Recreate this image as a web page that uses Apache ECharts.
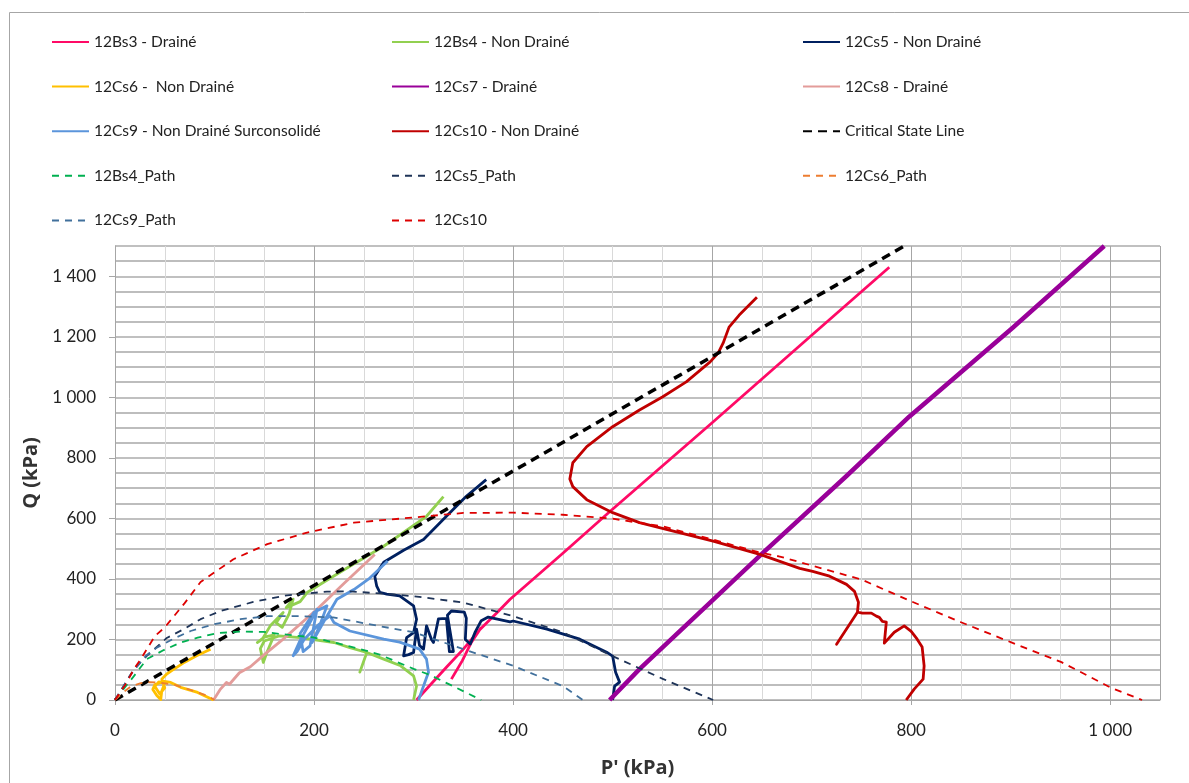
<!DOCTYPE html>
<html><head><meta charset="utf-8">
<script src="https://cdn.jsdelivr.net/npm/echarts@6/dist/echarts.min.js"></script>
<style>html,body{margin:0;padding:0;background:#fff}#c{width:1189px;height:783px}</style>
</head><body><div id="c"></div>
<script>
// ---- Data (P' kPa, Q kPa) ----
const bs3_drained = [[303,0],[316,47],[333,108],[350,168],[367,234],[384,289],[397,333],[450,485],[497,622],[600,916],[700,1205],[778,1430],'-',[338,69],[349,130],[358,190],[368,240]];
const bs4_undrained = [[300,0],[303,46],[300,80],[287,113],[270,135],[253,157],[246,92],[253,157],[236,173],[220,190],[186,206],[165,212],[150,195],[146,170],[149,124],[153,160],[160,215],[150,208],[143,190],[148,201],[156,245],[169,289],[162,255],[168,240],[175,285],[179,333],[172,305],[186,325],[193,355],[210,390],[236,442],[270,508],[313,607],[330,672]];
const cs5_undrained = [[500,0],[502,46],[507,59],[503,92],[500,145],[494,158],[467,201],[434,234],[400,261],[397,258],[375,274],[368,262],[362,225],[357,185],[352,200],[353,270],[351,290],[338,294],[334,280],[340,160],[336,160],[333,270],[325,268],[320,190],[318,200],[313,245],[310,168],[306,180],[303,234],[300,157],[295,150],[290,146],[293,206],[300,223],[303,267],[300,311],[286,344],[273,350],[266,356],[263,376],[261,409],[270,455],[290,495],[310,530],[333,607],[353,673],[373,728]];
const cs6_undrained = [[99,0],[83,25],[66,42],[56,58],[48,62],[40,50],[38,35],[42,15],[46,2],[47,30],[50,55],[44,60],[40,45],[45,20],[50,40],[47,69],[52,86],[57,97],[59,102],[70,125],[82,146],[96,168]];
const cs7_drained = [[497,0],[527,102],[651,486],[735,740],[798,936],[902,1230],[994,1500]];
const cs8_drained = [[99,0],[106,36],[112,58],[115,52],[125,90],[136,110],[150,150],[169,201],[203,300],[230,385],[261,481]];
const cs9_undrained_oc = [[305,0],[310,46],[315,92],[313,135],[306,168],[297,179],[286,191],[270,201],[236,228],[220,256],[216,278],[205,250],[190,200],[183,160],[179,146],[185,190],[195,250],[203,300],[196,179],[189,160],[186,220],[200,290],[213,311],[205,240],[198,190],[210,260],[223,333],[240,365],[255,400],[274,459]];
const cs10_undrained = [[795,0],[803,36],[812,69],[813,113],[811,175],[806,201],[800,227],[793,245],[783,224],[773,188],[775,257],[771,260],[768,273],[765,277],[760,287],[751,287],[746,290],[725,184],[746,290],[747,323],[743,359],[735,382],[718,409],[701,425],[688,435],[668,458],[648,481],[601,525],[567,553],[527,586],[500,619],[474,662],[460,705],[457,730],[460,784],[474,837],[500,903],[527,958],[550,1001],[574,1051],[598,1117],[606,1146],[611,1179],[617,1232],[627,1271],[645,1331]];
const csl = [[0,0],[793,1500]];
const bs4_path = [[0,0],[19,79],[32,135],[49,165],[66,190],[83,206],[103,221],[126,226],[149,225],[169,217],[199,207],[220,190],[250,165],[266,150],[286,122],[300,103],[317,82],[340,45],[368,0]];
const cs5_path = [[0,0],[19,102],[32,146],[52,205],[69,234],[86,267],[106,294],[139,324],[173,346],[213,358],[236,359],[266,352],[300,343],[350,322],[400,277],[450,224],[500,145],[551,69],[601,0]];
const cs6_path = [[0,0],[5,15],[10,30],[16,45],[26,56],[35,59],[45,57],[60,50],[76,33],[93,14],[100,0]];
const cs9_path = [[0,0],[15,80],[31,146],[42,173],[59,203],[76,228],[99,250],[126,267],[153,277],[186,277],[219,273],[266,244],[300,224],[350,168],[400,113],[450,46],[470,0]];
const cs10_path = [[0,0],[12,59],[19,102],[26,135],[32,168],[40,211],[50,240],[70,320],[86,390],[119,465],[153,515],[193,553],[240,586],[286,599],[350,618],[400,619],[450,612],[500,599],[551,573],[601,530],[648,487],[668,474],[750,398],[800,326],[850,257],[900,191],[951,125],[1001,40],[1032,0]];

const names = ['12Bs3 - Drainé','12Bs4 - Non Drainé','12Cs5 - Non Drainé','12Cs6 -  Non Drainé','12Cs7 - Drainé','12Cs8 - Drainé','12Cs9 - Non Drainé Surconsolidé','12Cs10 - Non Drainé','Critical State Line','12Bs4_Path','12Cs5_Path','12Cs6_Path','12Cs9_Path','12Cs10'];
const FONT = 'Lato';

function ser(name, data, color, width, type, z){
  return {name, type:'line', data, symbol:'none', showSymbol:false, connectNulls:false, z: z||2,
    lineStyle:{color, width, type: type||'solid', cap:'butt', join:'round'}, itemStyle:{color}, animation:false};
}
const series = [
  ser(names[0], bs3_drained, '#ff0a66', 2.8),
  ser(names[1], bs4_undrained, '#92d050', 2.8),
  ser(names[2], cs5_undrained, '#002060', 2.8),
  ser(names[3], cs6_undrained, '#ffc000', 2.8),
  ser(names[4], cs7_drained, '#990099', 4.5),
  ser(names[5], cs8_drained, '#e39c9a', 2.8),
  ser(names[6], cs9_undrained_oc, '#5b95db', 2.8),
  ser(names[7], cs10_undrained, '#c00000', 2.8),
  ser(names[8], csl, '#000000', 3.5, [9,6], 3),
  ser(names[9], bs4_path, '#00b050', 1.8, [7,6], 3),
  ser(names[10], cs5_path, '#1f3458', 1.8, [7,6], 3),
  ser(names[11], cs6_path, '#ed7d31', 1.8, [7,6], 3),
  ser(names[12], cs9_path, '#41709c', 1.8, [7,6], 3),
  ser(names[13], cs10_path, '#dd0000', 1.8, [7,6], 3)
];

function legendCol(left, items){
  return {left, top:34, orient:'vertical', padding:0, data:items, itemWidth:37, itemHeight:14, itemGap:28.6,
    itemTextGap:4, selectedMode:false,
    itemStyle:{color:'rgba(0,0,0,0)', borderColor:'rgba(0,0,0,0)', borderWidth:0, opacity:0},
    textStyle:{fontFamily:FONT, fontSize:15.5, color:'#222', lineHeight:16}};
}
const fmt = v => String(v).replace(/\B(?=(\d{3})+(?!\d))/g, ' ');

const option = {
  backgroundColor:'#fff',
  animation:false,
  graphic:[{type:'rect', shape:{x:9.5, y:12.5, width:1200, height:800}, style:{fill:'none', stroke:'#a6a6a6', lineWidth:1}, silent:true, z:-1}],
  legend:[
    legendCol(51, [names[0],names[3],names[6],names[9],names[12]]),
    legendCol(391, [names[1],names[4],names[7],names[10],names[13]]),
    legendCol(802, [names[2],names[5],names[8],names[11]])
  ],
  grid:{left:115, right:29, top:246, bottom:82, containLabel:false},
  xAxis:{type:'value', min:0, max:1050, interval:200,
    name:"P' (kPa)", nameLocation:'middle', nameGap:58,
    nameTextStyle:{fontFamily:'Open Sans', fontSize:20, fontWeight:'bold', color:'#333'},
    axisLine:{show:true, lineStyle:{color:'#a6a6a6', width:1}},
    axisTick:{show:true, length:5, lineStyle:{color:'#a6a6a6'}},
    axisLabel:{fontFamily:FONT, fontSize:17, color:'#222', margin:22, showMaxLabel:false, formatter:fmt},
    splitLine:{show:true, lineStyle:{color:'#a6a6a6', width:1}},
    minorTick:{show:false, splitNumber:4},
    minorSplitLine:{show:true, lineStyle:{color:'#d9d9d9', width:1}}
  },
  yAxis:{type:'value', min:0, max:1500, interval:200,
    name:'Q (kPa)', nameLocation:'middle', nameGap:70, nameRotate:90,
    nameTextStyle:{fontFamily:'Open Sans', fontSize:20, fontWeight:'bold', color:'#333'},
    axisLine:{show:true, lineStyle:{color:'#a6a6a6', width:1}},
    axisTick:{show:true, length:6, lineStyle:{color:'#a6a6a6'}},
    axisLabel:{fontFamily:FONT, fontSize:17, color:'#222', margin:19, showMaxLabel:false, formatter:fmt},
    splitLine:{show:true, lineStyle:{color:'#ababab', width:1.5}},
    minorTick:{show:false, splitNumber:4},
    minorSplitLine:{show:true, lineStyle:{color:'#bdbdbd', width:2}}
  },
  series
};
const chart = echarts.init(document.getElementById('c'), null, {renderer:'canvas'});
chart.setOption(option);
</script></body></html>
